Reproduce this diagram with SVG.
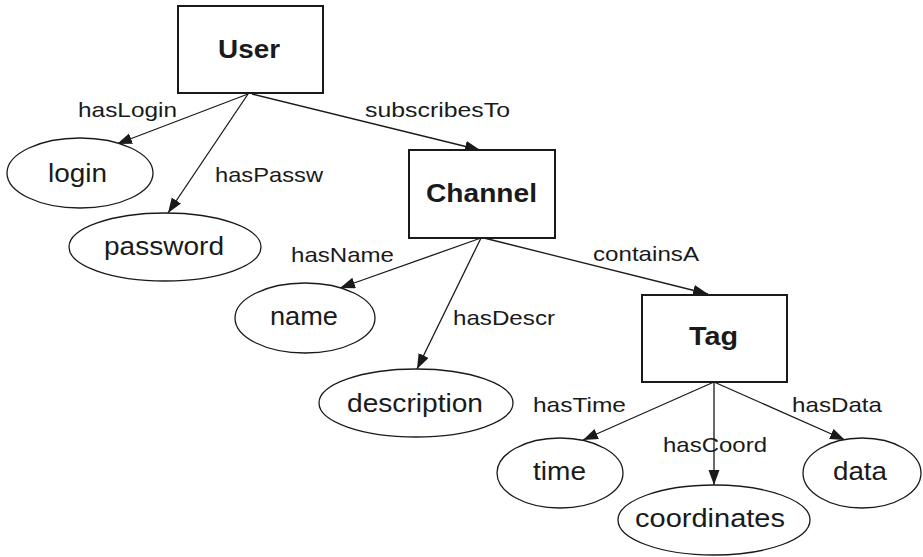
<svg xmlns="http://www.w3.org/2000/svg" width="923" height="557" viewBox="0 0 923 557">
<style>
.box{fill:#fff;stroke:#1a1a1a;stroke-width:2}
.ell{fill:#fff;stroke:#1a1a1a;stroke-width:1.3}
.edge{fill:none;stroke:#1a1a1a;stroke-width:1.3;marker-end:url(#arr)}
text{font-family:"Liberation Sans",Arial,sans-serif;fill:#1a1a1a;text-anchor:middle}
.bold{font-weight:bold;font-size:26px}
.val{font-size:25px}
.lbl{font-size:21px;text-anchor:start}
</style>
<defs>
<marker id="arr" markerUnits="userSpaceOnUse" markerWidth="16" markerHeight="12" refX="15" refY="5.5" orient="auto">
<path d="M0,0 L15,5.5 L0,11 z" fill="#1a1a1a"/>
</marker>
</defs>
<rect width="923" height="557" fill="#fff"/>
<g id="connectors">
<path class="edge" d="M248,94 L117,144"/>
<path class="edge" d="M248,94 L168,213"/>
<path class="edge" d="M252,94 L480,150"/>
<path class="edge" d="M481,238 L340,288"/>
<path class="edge" d="M481,238 L417,369"/>
<path class="edge" d="M484,238 L708,294"/>
<path class="edge" d="M714,382 L583,440"/>
<path class="edge" d="M714,382 L714,485"/>
<path class="edge" d="M714,382 L845,440"/>
<text class="lbl" x="78" y="117" textLength="99" lengthAdjust="spacingAndGlyphs">hasLogin</text>
<text class="lbl" x="215" y="182" textLength="108" lengthAdjust="spacingAndGlyphs">hasPassw</text>
<text class="lbl" x="365" y="117" textLength="145" lengthAdjust="spacingAndGlyphs">subscribesTo</text>
<text class="lbl" x="291" y="262" textLength="103" lengthAdjust="spacingAndGlyphs">hasName</text>
<text class="lbl" x="453" y="325" textLength="102" lengthAdjust="spacingAndGlyphs">hasDescr</text>
<text class="lbl" x="593" y="261" textLength="106" lengthAdjust="spacingAndGlyphs">containsA</text>
<text class="lbl" x="533" y="412" textLength="93" lengthAdjust="spacingAndGlyphs">hasTime</text>
<text class="lbl" x="663" y="452" textLength="104" lengthAdjust="spacingAndGlyphs">hasCoord</text>
<text class="lbl" x="792" y="412" textLength="90" lengthAdjust="spacingAndGlyphs">hasData</text>
</g>
<g id="User">
<rect class="box" x="178" y="6" width="145" height="87"/>
<text class="bold" x="249" y="58" textLength="62" lengthAdjust="spacingAndGlyphs">User</text>
</g>
<g id="Channel">
<rect class="box" x="409" y="150" width="146" height="88"/>
<text class="bold" x="481.5" y="202" textLength="111" lengthAdjust="spacingAndGlyphs">Channel</text>
</g>
<g id="Tag">
<rect class="box" x="642" y="295" width="145" height="87"/>
<text class="bold" x="713.5" y="345" textLength="49" lengthAdjust="spacingAndGlyphs">Tag</text>
</g>
<g id="login">
<ellipse class="ell" cx="80" cy="173" rx="73" ry="35"/>
<text class="val" x="77.5" y="182" textLength="59" lengthAdjust="spacingAndGlyphs">login</text>
</g>
<g id="password">
<ellipse class="ell" cx="165" cy="247" rx="96" ry="34"/>
<text class="val" x="164" y="255" textLength="120" lengthAdjust="spacingAndGlyphs">password</text>
</g>
<g id="name">
<ellipse class="ell" cx="305" cy="318" rx="70" ry="35"/>
<text class="val" x="304" y="325" textLength="68" lengthAdjust="spacingAndGlyphs">name</text>
</g>
<g id="description">
<ellipse class="ell" cx="416" cy="403" rx="97" ry="34"/>
<text class="val" x="415" y="412" textLength="136" lengthAdjust="spacingAndGlyphs">description</text>
</g>
<g id="time">
<ellipse class="ell" cx="560" cy="473" rx="63" ry="35"/>
<text class="val" x="559.5" y="480" textLength="53" lengthAdjust="spacingAndGlyphs">time</text>
</g>
<g id="coordinates">
<ellipse class="ell" cx="714" cy="520" rx="96" ry="35"/>
<text class="val" x="710" y="527" textLength="150" lengthAdjust="spacingAndGlyphs">coordinates</text>
</g>
<g id="data">
<ellipse class="ell" cx="862" cy="473" rx="59" ry="35"/>
<text class="val" x="860" y="480" textLength="54" lengthAdjust="spacingAndGlyphs">data</text>
</g>
</svg>
